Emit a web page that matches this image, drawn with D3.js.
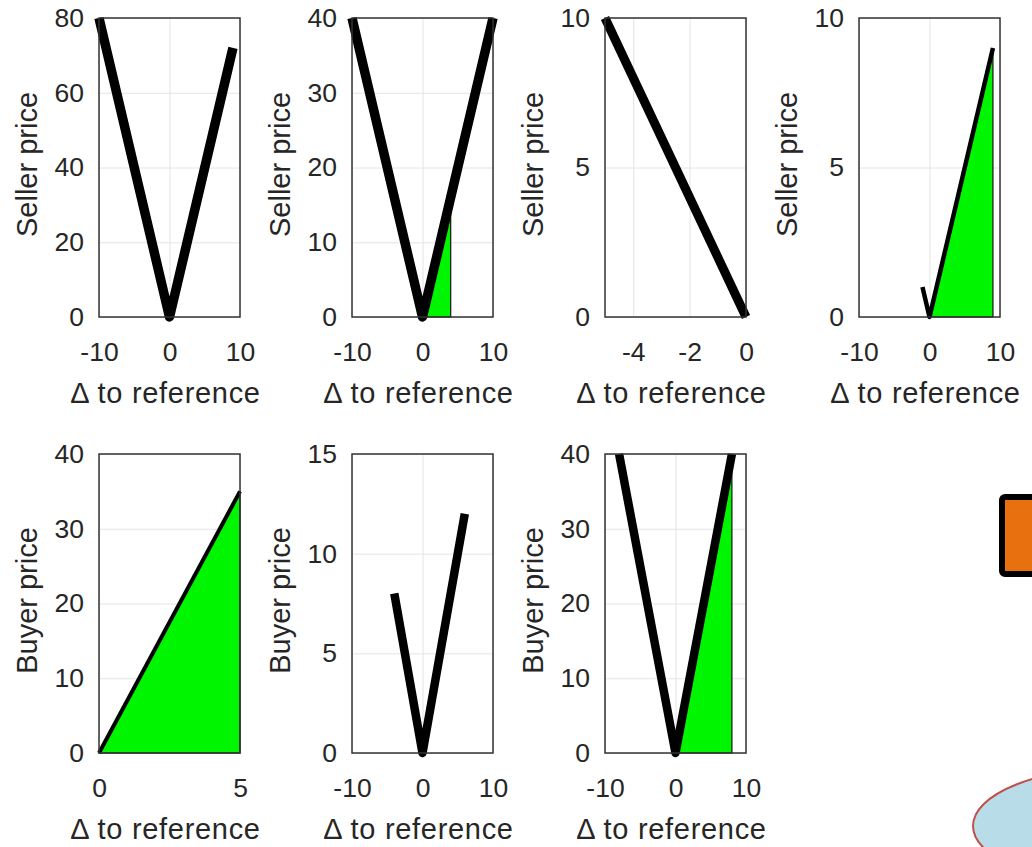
<!DOCTYPE html>
<html>
<head>
<meta charset="utf-8">
<script src="https://cdnjs.cloudflare.com/ajax/libs/d3/7.8.5/d3.min.js"></script>
<style>
  body { margin: 0; background: #fff; }
  svg { display: block; font-family: "Liberation Sans", Arial, sans-serif; }
  .grid line { stroke: #e4e4e4; stroke-width: 1; }
  .grid path { display: none; }
  .ticks path, .ticks line { display: none; }
  .ticks text { fill: #262626; font-size: 26.5px; }
  .label { fill: #262626; font-size: 29px; }
  .xlabel { letter-spacing: 0.7px; }
</style>
</head>
<body>
<svg id="chart" width="1032" height="847"></svg>
<script>
// axis ranges and ticks, one entry per panel (top row 4, bottom row 3)
const xDomains = [[-10, 10], [-10, 10], [-5, 0], [-10, 10], [0, 5], [-10, 10], [-10, 10]];
const yDomains = [[0, 80], [0, 40], [0, 10], [0, 10], [0, 40], [0, 15], [0, 40]];
const xTicks = [[-10, 0, 10], [-10, 0, 10], [-4, -2, 0], [-10, 0, 10], [0, 5], [-10, 0, 10], [-10, 0, 10]];
const yTicks = [[0, 20, 40, 60, 80], [0, 10, 20, 30, 40], [0, 5, 10], [0, 5, 10], [0, 10, 20, 30, 40], [0, 5, 10, 15], [0, 10, 20, 30, 40]];
const yLabels = ['Seller price', 'Seller price', 'Seller price', 'Seller price', 'Buyer price', 'Buyer price', 'Buyer price'];
const xLabel = '\u0394 to reference';

// price curves
const lineX = [[-10, 0, 9], [-10, 0, 10], [-5, 0], [-1, 0, 9], [0, 5], [-4, 0, 6], [-8, 0, 8]];
const lineY = [[80, 0, 72], [40, 0, 40], [10, 0], [1, 0, 9], [0, 35], [8, 0, 12], [40, 0, 40]];

// green areas (empty = none)
const fillX = [[], [0, 4, 4], [], [0, 9, 9], [0, 5, 5], [], [0, 8, 8]];
const fillY = [[], [0, 16, 0], [], [0, 9, 0], [0, 35, 0], [], [0, 40, 0]];

// styles / layout
const lineWidths = [9.5, 9.5, 9, 4.5, 4, 8.5, 8.5];
const colLeft = [99, 352, 605, 859];
const rowTop = [18, 454];
const W = 141, H = 299;

const svg = d3.select('#chart');

// decorations cut by the frame on the right
svg.append('rect')
    .attr('x', 1002).attr('y', 497)
    .attr('width', 60).attr('height', 77)
    .attr('rx', 3)
    .attr('fill', '#e8700f')
    .attr('stroke', '#000')
    .attr('stroke-width', 6);

svg.append('ellipse')
    .attr('cx', 1123).attr('cy', 826)
    .attr('rx', 150).attr('ry', 59)
    .attr('fill', '#b8dde8')
    .attr('stroke', '#c0504d')
    .attr('stroke-width', 2);

lineX.forEach((lx, i) => {
    const col = i < 4 ? i : i - 4;
    const row = i < 4 ? 0 : 1;

    const g = svg.append('g')
        .attr('transform', `translate(${colLeft[col]}, ${rowTop[row]})`);

    const x = d3.scaleLinear().domain(xDomains[i]).range([0, W]);
    const y = d3.scaleLinear().domain(yDomains[i]).range([H, 0]);

    // grille
    g.append('g')
        .attr('class', 'grid')
        .attr('transform', `translate(0, ${H})`)
        .call(d3.axisBottom(x).tickValues(xTicks[i]).tickSize(-H).tickFormat(''));
    g.append('g')
        .attr('class', 'grid')
        .call(d3.axisLeft(y).tickValues(yTicks[i]).tickSize(-W).tickFormat(''));

    // zone verte
    if (fillX[i].length) {
        const pts = fillX[i].map((v, k) => [x(v), y(fillY[i][k])]);
        g.append('path')
            .attr('d', 'M' + pts.join('L') + 'Z')
            .attr('fill', '#00f500')
            .attr('stroke', '#111')
            .attr('stroke-width', 1.2);
    }

    // courbe
    const pts = lx.map((v, k) => [v, lineY[i][k]]);
    g.append('path')
        .datum(pts)
        .attr('d', d3.line().x(d => x(d[0])).y(d => y(d[1])))
        .attr('fill', 'none')
        .attr('stroke', '#000')
        .attr('stroke-width', lineWidths[i])
        .attr('stroke-linejoin', 'round')
        .attr('stroke-linecap', 'butt');

    // cadre
    g.append('rect')
        .attr('width', W).attr('height', H)
        .attr('fill', 'none')
        .attr('stroke', '#333')
        .attr('stroke-width', 1.5);

    // axes
    const ax = g.append('g')
        .attr('class', 'ticks')
        .attr('transform', `translate(0, ${H})`)
        .call(d3.axisBottom(x).tickValues(xTicks[i]).tickSize(0).tickPadding(25.5).tickFormat(d => String(d)));
    ax.attr('font-size', null).attr('font-family', null);

    const ay = g.append('g')
        .attr('class', 'ticks')
        .call(d3.axisLeft(y).tickValues(yTicks[i]).tickSize(0).tickPadding(15).tickFormat(d => String(d)));
    ay.attr('font-size', null).attr('font-family', null);

    // textes
    g.append('text')
        .attr('class', 'label xlabel')
        .attr('x', W / 2 - 4)
        .attr('y', H + 86)
        .attr('text-anchor', 'middle')
        .text(xLabel);

    g.append('text')
        .attr('class', 'label')
        .attr('transform', `translate(-62, ${H / 2 - 3}) rotate(-90)`)
        .attr('text-anchor', 'middle')
        .text(yLabels[i]);
});
</script>
</body>
</html>
